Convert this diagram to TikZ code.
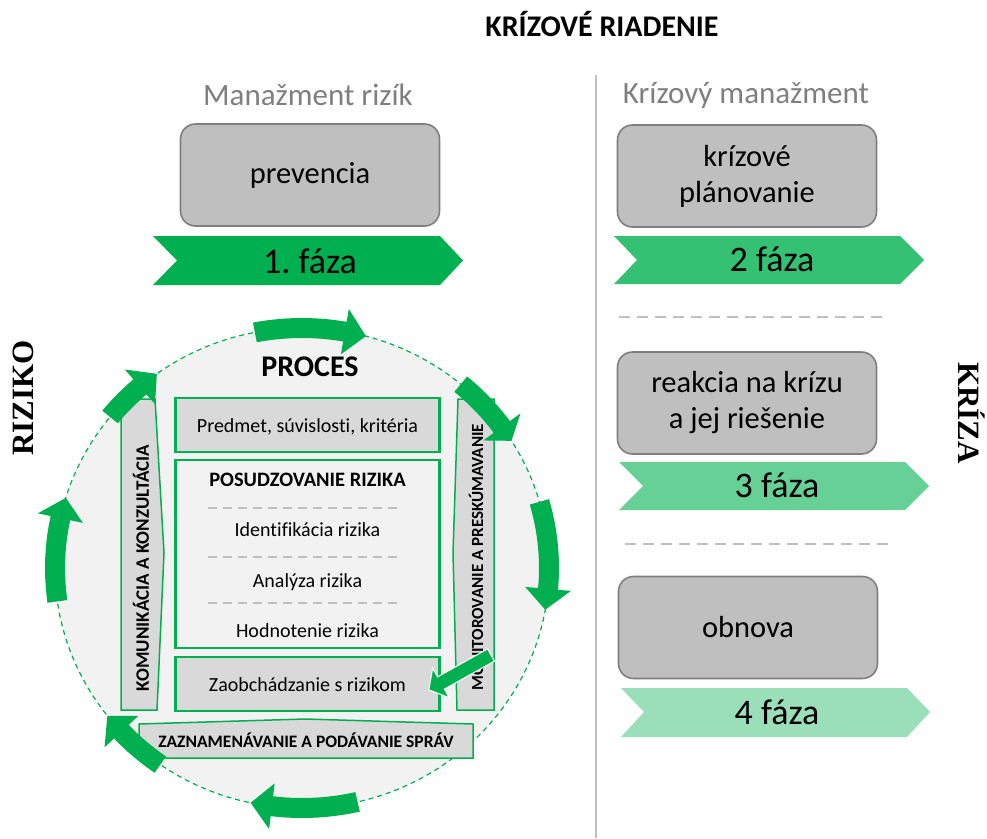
\documentclass[tikz,border=0pt]{standalone}
\usepackage{fontspec}
\setmainfont{Carlito}[Ligatures=NoCommon]
\newfontfamily\tnrfont{Liberation Serif}
\frenchspacing
\definecolor{grn}{HTML}{00B050}
\definecolor{grnb}{HTML}{35C174}
\definecolor{grnc}{HTML}{66D097}
\definecolor{grnd}{HTML}{9ADFB9}
\definecolor{boxfill}{HTML}{BFBFBF}
\definecolor{boxline}{HTML}{7F7F7F}
\definecolor{lightfill}{HTML}{D9D9D9}
\definecolor{circfill}{HTML}{F2F2F2}
\definecolor{sepgray}{HTML}{BFBFBF}
\definecolor{headgray}{HTML}{7F7F7F}
\newcommand\fs[2]{\fontsize{#1}{#2}\selectfont}
\newcommand\cycarrow[3]{%
  \fill[grn] plot[domain=#1:#2,samples=16] ({302+257*cos(\x)},{568-250*sin(\x)})
    -- ({302+270*cos(#2)},{568-263*sin(#2)})
    -- ({302+247*cos(#3)},{568-240*sin(#3)})
    -- ({302+224*cos(#2)},{568-217*sin(#2)})
    -- plot[domain=#2:#1,samples=16] ({302+237*cos(\x)},{568-230*sin(\x)})
    -- cycle;}
\begin{document}
\begin{tikzpicture}[x=1pt,y=-1pt,
  phasebox/.style={draw=boxline,fill=boxfill,line width=1.6pt,rounded corners=15pt,
    minimum width=259pt,minimum height=102pt,inner sep=0pt,align=center,font=\fs{30.5}{36}},
  phasetext/.style={font=\fs{36}{40},inner sep=0pt},
  greenbox/.style={draw=grn,line width=2.2pt,minimum width=264pt,inner sep=0pt},
  bartext/.style={font=\bfseries\fs{18}{20},inner sep=0pt},
  innertext/.style={font=\fs{20}{24},inner sep=0pt},
  sepline/.style={draw=sepgray,line width=2.2pt,dash pattern=on 11pt off 7pt},
  innersep/.style={draw=sepgray,line width=2pt,dash pattern=on 9pt off 6pt},
  barshape/.style={fill=lightfill,draw=grn,line width=1.5pt},
  headtext/.style={font=\fs{31}{36},text=headgray,inner sep=0pt},
  bigword/.style={font=\tnrfont\bfseries\fs{31}{36},inner sep=0pt,anchor=base}
]
\useasboundingbox (0,0) rectangle (987,838);
\fill[white] (0,0) rectangle (987,838);

% title and headers
\node[font=\bfseries\fs{30}{34},inner sep=0pt] (title) at (602,24) {KRÍZOVÉ RIADENIE};
\draw[sepgray,line width=1.5pt] (596,75) -- (596,838);
\node[headtext] (hl) at (308,95) {Manažment rizík};
\node[headtext] (hr) at (746,95) {Krízový manažment};

% left phase
\node[phasebox] (prev) at (310,175) {prevencia};
\fill[grn] (153,236) -- (440,236) -- (463,260.5) -- (440,285) -- (153,285) -- (177,260.5) -- cycle;
\node[phasetext] (f1) at (310,261) {1. fáza};

% right phases
\node[phasebox] (plan) at (747,176) {krízové\\plánovanie};
\fill[grnb] (614,236) -- (900,236) -- (924,260) -- (900,284) -- (614,284) -- (637,260) -- cycle;
\node[phasetext] (f2) at (772,259) {2 fáza};
\draw[sepline] (619,317) -- (886,317);
\node[phasebox] (reak) at (747,403) {reakcia na krízu\\a jej riešenie};
\fill[grnc] (619,462) -- (905,462) -- (929,486) -- (905,510) -- (619,510) -- (643,486) -- cycle;
\node[phasetext] (f3) at (777,485) {3 fáza};
\draw[sepline] (625,544) -- (892,544);
\node[phasebox] (obn) at (748,627.5) {obnova};
\fill[grnd] (621,688) -- (907,688) -- (930,712) -- (907,737) -- (621,737) -- (644,712) -- cycle;
\node[phasetext] (f4) at (777,712) {4 fáza};

% side words
\node[bigword,rotate=90] (riziko) at (33,398) {RIZIKO};
\node[bigword,rotate=-90] (kriza) at (958,413) {KRÍZA};

% process circle
\path[fill=circfill,draw=grn,line width=1.2pt,dash pattern=on 5pt off 4pt] (302,568) ellipse [x radius=247pt,y radius=240pt];
\node[font=\bfseries\fs{30}{36},inner sep=0pt] (proc) at (310,367) {PROCES};

\node[greenbox,fill=lightfill,minimum height=54pt] (pred) at (307.5,425) {};
\node[innertext] (predt) at (307.5,427) {Predmet, súvislosti, kritéria};
\node[greenbox,fill=circfill,minimum height=188pt] (posud) at (307.5,554) {};
\node[innertext,font=\bfseries\fs{20.5}{24}] (post) at (307.5,480) {POSUDZOVANIE RIZIKA};
\draw[innersep] (208,508) -- (402,508);
\node[innertext] (ident) at (307.5,530) {Identifikácia rizika};
\draw[innersep] (208,557) -- (402,557);
\node[innertext] (anal) at (307.5,582) {Analýza rizika};
\draw[innersep] (208,603) -- (402,603);
\node[innertext] (hodn) at (307.5,631) {Hodnotenie rizika};
\node[greenbox,fill=lightfill,minimum height=54pt] (zaob) at (307.5,684) {};
\node[innertext] (zaobt) at (307.5,685) {Zaobchádzanie s rizikom};

% side bars
\path[barshape] (121,399) -- (155,399) -- (164,553) -- (157,710) -- (121,710) -- cycle;
\node[bartext,font=\bfseries\fs{19}{20}] (komt) at (141,568) [rotate=90] {KOMUNIKÁCIA A KONZULTÁCIA};
\path[barshape] (458,399) -- (494,399) -- (494,710) -- (457,710) -- (453,553) -- cycle;
\node[bartext,font=\bfseries\fs{17}{20}] (mont) at (476,557) [rotate=90] {MONITOROVANIE A PRESKÚMAVANIE};
\path[barshape] (139,724) -- (305,719) -- (473,724) -- (473,758) -- (139,758) -- cycle;
\node[bartext,font=\bfseries\fs{17.5}{20}] (zazt) at (306,740) {ZAZNAMENÁVANIE A PODÁVANIE SPRÁV};

% cycle arrows
\cycarrow{101}{80}{75}
\cycarrow{50}{36}{32}
\cycarrow{16}{-5}{-10}
\cycarrow{-77}{-97}{-102}
\cycarrow{-125}{-137}{-142}
\cycarrow{188}{168}{163}
\cycarrow{141}{131}{126}

% inner arrow to treatment
\filldraw[fill=grn,draw=white,line width=1pt]
  (487.6,648.9) -- (437.6,676.9) -- (432.7,668.2) -- (428.8,689.8) -- (449.3,697.8) -- (444.4,689.1) -- (494.4,661.1) -- cycle;
\end{tikzpicture}
\end{document}
